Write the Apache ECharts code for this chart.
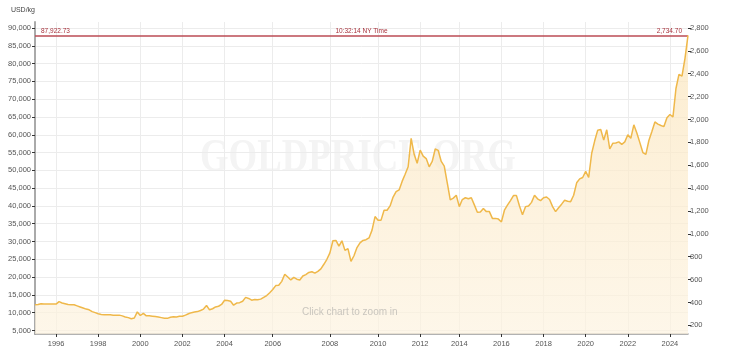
<!DOCTYPE html>
<html><head><meta charset="utf-8">
<script src="https://cdn.jsdelivr.net/npm/echarts@6/dist/echarts.min.js"></script>
<style>html,body{margin:0;padding:0;background:#fff}#c{width:732px;height:356px}</style>
</head><body><div id="c"></div>
<script>
// ---- data ----
const years = [1995,1996,1997,1998,1999,2000,2001,2002,2003,2004,2005,2006,2007,2008,2009,2010,2011,2012,2013,2014,2015,2016,2017,2018,2019,2020,2021,2022,2023,2024];
// number of (equally spaced, ordinal) samples per year
const pointsPerYear = [7,7,7,7,7,7,7,7,7,8,8,10,9,8,8,7,7,6,7,7,7,7,7,7,7,7,7,7,7,7];
const yearLabels = ['1996','1998','2000','2002','2004','2006','2008','2010','2012','2014','2016','2018','2020','2022','2024'];
// gold price, USD/kg
const priceKg = [
  12200,12300,12500,12400,12400,12400,12400,
  12400,13100,12700,12500,12300,12200,12200,
  11900,11600,11300,11000,10800,10300,10000,
  9700,9500,9400,9400,9400,9300,9300,
  9300,9100,8800,8600,8300,8500,10200,
  9200,9800,9100,9100,9000,8900,8800,
  8600,8400,8400,8700,8850,8800,9000,
  9000,9300,9700,10000,10200,10300,10600,
  11000,12000,10800,11100,11600,11800,12300,
  13500,13400,13200,12100,12700,12800,13200,14300,
  14000,13500,13700,13600,13800,14300,14800,15600,
  16500,17600,17700,18800,20800,20000,19200,19900,19400,19200,
  20300,20700,21300,21500,21100,21600,22300,23600,25000,
  26800,30200,30300,28700,30200,27500,28000,24400,
  26000,28300,29600,30300,30500,31000,33200,37000,
  36000,36000,38800,38800,40000,42500,44000,
  44500,46900,48900,51000,59000,54500,52000,
  55700,54000,53300,51000,52500,56000,
  55600,52500,51200,46500,41700,42200,43000,
  39800,41800,42300,42000,42300,40300,38200,
  38300,39300,38400,38400,36500,36500,36300,
  35500,38800,40200,41500,42900,42900,40000,
  37500,39800,40000,41000,43000,42000,41500,
  42300,42500,41800,39800,38400,39500,40500,
  41600,41300,41200,43000,46500,47600,48000,
  49700,48000,54800,58300,61300,61500,58500,
  61400,56000,57600,57700,58000,57300,58000,
  60000,59000,62800,60500,57800,55000,54500,
  58400,60900,63600,63000,62600,62300,64800,
  65700,65000,73000,77000,76500,81500,87922.73
];
const leftTicks = [5000,10000,15000,20000,25000,30000,35000,40000,45000,50000,55000,60000,65000,70000,75000,80000,85000,90000];
const rightTicks = [200,400,600,800,1000,1200,1400,1600,1800,2000,2200,2400,2600,2800];
const OZ_PER_KG = 32.1507;
const axisMinKg = 4000, axisMaxKg = 91700;
const lastKg = 87922.73, lastOz = 2734.70;
const timeText = '10:32:14 NY Time';
const unitText = 'USD/kg';

// ---- build categories ----
const categories = [];
const labelIdx = new Set();
years.forEach((y, j) => {
  for (let k = 0; k < pointsPerYear[j]; k++) {
    if (k === 0 && yearLabels.includes(String(y))) labelIdx.add(categories.length);
    categories.push(y + '-' + (k + 1));
  }
});
const showIdx = (i) => labelIdx.has(i);
const fmt2 = v => v.toLocaleString('en-US', {minimumFractionDigits: 2, maximumFractionDigits: 2});
const fmt0 = v => v.toLocaleString('en-US');

const FONT = 'Liberation Sans';
const chart = echarts.init(document.getElementById('c'), null, {renderer: 'canvas'});
chart.setOption({
  animation: false,
  backgroundColor: '#fff',
  textStyle: {fontFamily: FONT},
  grid: {left: 35, right: 44, top: 22, bottom: 22, containLabel: false},
  graphic: [
    {type: 'text', z: 0, left: 200, top: 136, scaleX: 0.8,
     style: {text: 'GOLDPRICE.ORG', font: 'bold 46px "Liberation Serif"', fill: '#f4f4f4'}},
    {type: 'text', z: 100, left: 302, top: 307,
     style: {text: 'Click chart to zoom in', font: '10px "Liberation Sans"', fill: 'rgba(150,150,150,0.5)'}}
  ],
  xAxis: {
    type: 'category', data: categories, boundaryGap: false,
    axisLine: {lineStyle: {color: '#999', width: 1.5}},
    axisTick: {interval: showIdx, length: 3, lineStyle: {color: '#333'}},
    axisLabel: {interval: showIdx, formatter: v => v.split('-')[0], color: '#555', fontSize: 7.5, margin: 6, fontFamily: FONT},
    splitLine: {show: true, interval: showIdx, lineStyle: {color: '#ececec', width: 1}}
  },
  yAxis: [
    {type: 'value', position: 'left', min: axisMinKg, max: axisMaxKg,
     name: unitText, nameLocation: 'end', nameGap: 8,
     nameTextStyle: {fontSize: 7, color: '#444', align: 'right', fontFamily: FONT},
     axisLine: {show: true, lineStyle: {color: '#aaa', width: 2}},
     axisTick: {show: true, length: 3, customValues: leftTicks, lineStyle: {color: '#333'}},
     axisLabel: {customValues: leftTicks, formatter: v => fmt0(v), color: '#555', fontSize: 7.5, margin: 4, fontFamily: FONT},
     splitLine: {show: true, lineStyle: {color: '#ececec', width: 1}}},
    {type: 'value', position: 'right', min: axisMinKg / OZ_PER_KG, max: axisMaxKg / OZ_PER_KG,
     axisLine: {show: false},
     axisTick: {show: true, length: 3, customValues: rightTicks, lineStyle: {color: '#333'}},
     axisLabel: {customValues: rightTicks, formatter: v => fmt0(v), color: '#555', fontSize: 7.5, margin: 2, fontFamily: FONT},
     splitLine: {show: false}}
  ],
  series: [{
    type: 'line', data: priceKg, yAxisIndex: 0, z: 5,
    symbol: 'none', smooth: false,
    lineStyle: {color: '#efb84a', width: 1.5},
    areaStyle: {color: new echarts.graphic.LinearGradient(0, 0, 0, 1, [
      {offset: 0, color: '#fbe5bb'}, {offset: 1, color: '#fdf3e0'}])},
    markLine: {
      silent: true, symbol: ['none', 'none'], animation: false,
      label: {fontSize: 6.5, color: '#a8323c', fontFamily: FONT, distance: 1},
      data: [
        {yAxis: lastKg, lineStyle: {color: '#bb4b55', width: 1.5, type: 'solid'},
         label: {show: true, position: 'insideStartTop', formatter: fmt2(lastKg), color: '#a8323c', distance: [6, 1]}},
        {yAxis: lastKg, lineStyle: {color: 'rgba(0,0,0,0)', width: 0},
         label: {show: true, position: 'insideMiddleTop', formatter: timeText, color: '#a8323c', distance: 1}},
        {yAxis: lastKg, lineStyle: {color: 'rgba(0,0,0,0)', width: 0},
         label: {show: true, position: 'insideEndTop', formatter: fmt2(lastOz), color: '#a8323c', distance: [6, 1]}}
      ]
    }
  }]
});
</script></body></html>
